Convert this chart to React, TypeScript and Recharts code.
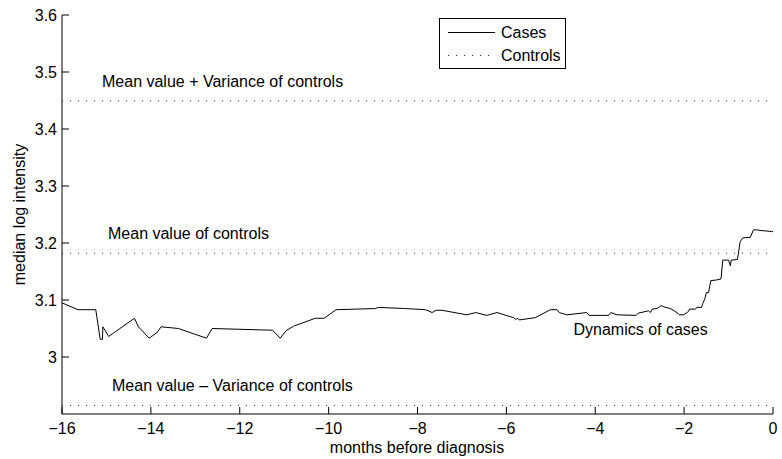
import React from 'react';
import { LineChart, Line, XAxis, YAxis, ReferenceLine, ReferenceDot } from 'recharts';

// months before diagnosis (x) and median log intensity of cases (y)
const monthsBefore = [
  -16.0, -15.64, -15.24, -15.14, -15.09, -15.08, -14.95, -14.37, -14.28, -14.04,
  -13.86, -13.77, -13.38, -12.75, -12.62, -11.26, -11.09, -10.96, -10.79, -10.3,
  -10.1, -9.83, -8.95, -8.88, -8.27, -7.82, -7.67, -7.58, -7.45, -6.89,
  -6.69, -6.44, -6.21, -5.84, -5.79, -5.74, -5.71, -5.35, -5.01, -4.86,
  -4.81, -4.64, -4.19, -4.14, -3.7, -3.65, -3.51, -3.08, -3.03, -2.8,
  -2.76, -2.72, -2.61, -2.52, -2.46, -2.31, -2.2, -2.1, -2.01, -1.9,
  -1.88, -1.75, -1.71, -1.61, -1.58, -1.53, -1.5, -1.45, -1.4, -1.28,
  -1.17, -1.13, -1.0, -0.96, -0.94, -0.8, -0.74, -0.68, -0.51, -0.44,
  -0.35, -0.29, -0.14, -0.03, 0.0,
];
const medianCases = [
  3.095, 3.083, 3.083, 3.031, 3.031, 3.053, 3.036, 3.068, 3.053, 3.033,
  3.043, 3.053, 3.05, 3.033, 3.05, 3.047, 3.033, 3.046, 3.054, 3.068,
  3.068, 3.083, 3.085, 3.087, 3.085, 3.083, 3.078, 3.082, 3.082, 3.074,
  3.078, 3.073, 3.078, 3.069, 3.066, 3.068, 3.065, 3.069, 3.083, 3.083,
  3.078, 3.074, 3.078, 3.073, 3.073, 3.078, 3.074, 3.073, 3.077, 3.081,
  3.078, 3.084, 3.085, 3.09, 3.088, 3.085, 3.08, 3.074, 3.074, 3.08,
  3.084, 3.084, 3.087, 3.087, 3.094, 3.103, 3.113, 3.113, 3.134, 3.135,
  3.137, 3.17, 3.17, 3.16, 3.17, 3.171, 3.202, 3.209, 3.21, 3.223,
  3.223, 3.222, 3.221, 3.22, 3.22,
];

// controls
const controlsMean = 3.182;
const controlsVariance = 0.267;

const xTicks = [-16, -14, -12, -10, -8, -6, -4, -2, 0];
const yTicks = [3, 3.1, 3.2, 3.3, 3.4, 3.5, 3.6];

const FONT = '"Liberation Sans", Arial, Helvetica, sans-serif';

const data = monthsBefore.map((m, i) => ({ month: m, cases: medianCases[i] }));

const fmtX = (v: number) => (v < 0 ? '\u2212' + Math.abs(v) : String(v));
const fmtY = (v: number) => (v === 3 ? '3' : v.toFixed(1));

function LineText(props: any) {
  const { viewBox, text, dx } = props;
  return (
    <text x={viewBox.x + dx} y={viewBox.y - 14} fontSize={16} fontFamily={FONT} fill="#000">
      {text}
    </text>
  );
}

function DotText(props: any) {
  const { viewBox, text } = props;
  return (
    <text x={viewBox.x} y={viewBox.y} fontSize={16} fontFamily={FONT} fill="#000">
      {text}
    </text>
  );
}

export default function App() {
  return (
    <div style={{ position: 'absolute', left: 0, top: 0, width: 782, height: 459, background: '#fff' }}>
      <LineChart width={782} height={459} data={data} margin={{ top: 15, right: 9, bottom: 0, left: 0 }}>
        <XAxis
          dataKey="month"
          type="number"
          domain={[-16, 0]}
          ticks={xTicks}
          tickFormatter={fmtX}
          height={45}
          tickSize={-7}
          tickMargin={16}
          stroke="#000"
          tick={{ fill: '#000', fontSize: 16, fontFamily: FONT }}
          allowDataOverflow
        />
        <YAxis
          type="number"
          domain={[2.9, 3.6]}
          ticks={yTicks}
          tickFormatter={fmtY}
          width={62}
          tickSize={-7}
          tickMargin={12}
          stroke="#000"
          tick={{ fill: '#000', fontSize: 16, fontFamily: FONT }}
          allowDataOverflow
        />
        <ReferenceLine
          y={controlsMean + controlsVariance}
          stroke="#333"
          strokeDasharray="1 7"
          label={<LineText text="Mean value + Variance of controls" dx={40} />}
        />
        <ReferenceLine
          y={controlsMean}
          stroke="#333"
          strokeDasharray="1 7"
          label={<LineText text="Mean value of controls" dx={46} />}
        />
        <ReferenceLine
          y={controlsMean - controlsVariance}
          stroke="#333"
          strokeDasharray="1 7"
          label={<LineText text={'Mean value \u2013 Variance of controls'} dx={50} />}
        />
        <ReferenceDot x={-4.49} y={3.039} r={0} stroke="none" fill="none" label={<DotText text="Dynamics of cases" />} />
        <Line
          dataKey="cases"
          type="linear"
          stroke="#000"
          strokeWidth={1}
          dot={false}
          isAnimationActive={false}
        />
      </LineChart>
      <svg width={782} height={459} style={{ position: 'absolute', left: 0, top: 0, pointerEvents: 'none' }}>
        <text
          transform="translate(25,214.5) rotate(-90)"
          textAnchor="middle"
          fontSize={16}
          fontFamily={FONT}
          fill="#000"
        >
          median log intensity
        </text>
        <text x={417} y={453} textAnchor="middle" fontSize={16} fontFamily={FONT} fill="#000">
          months before diagnosis
        </text>
        <rect x={439.5} y={18.5} width={126} height={50} fill="#fff" stroke="#000" />
        <line x1={448} x2={495} y1={32.5} y2={32.5} stroke="#000" />
        <line x1={448} x2={495} y1={55.5} y2={55.5} stroke="#333" strokeDasharray="1 7" />
        <text x={501} y={38} fontSize={16} fontFamily={FONT} fill="#000">Cases</text>
        <text x={501} y={61} fontSize={16} fontFamily={FONT} fill="#000">Controls</text>
      </svg>
    </div>
  );
}
